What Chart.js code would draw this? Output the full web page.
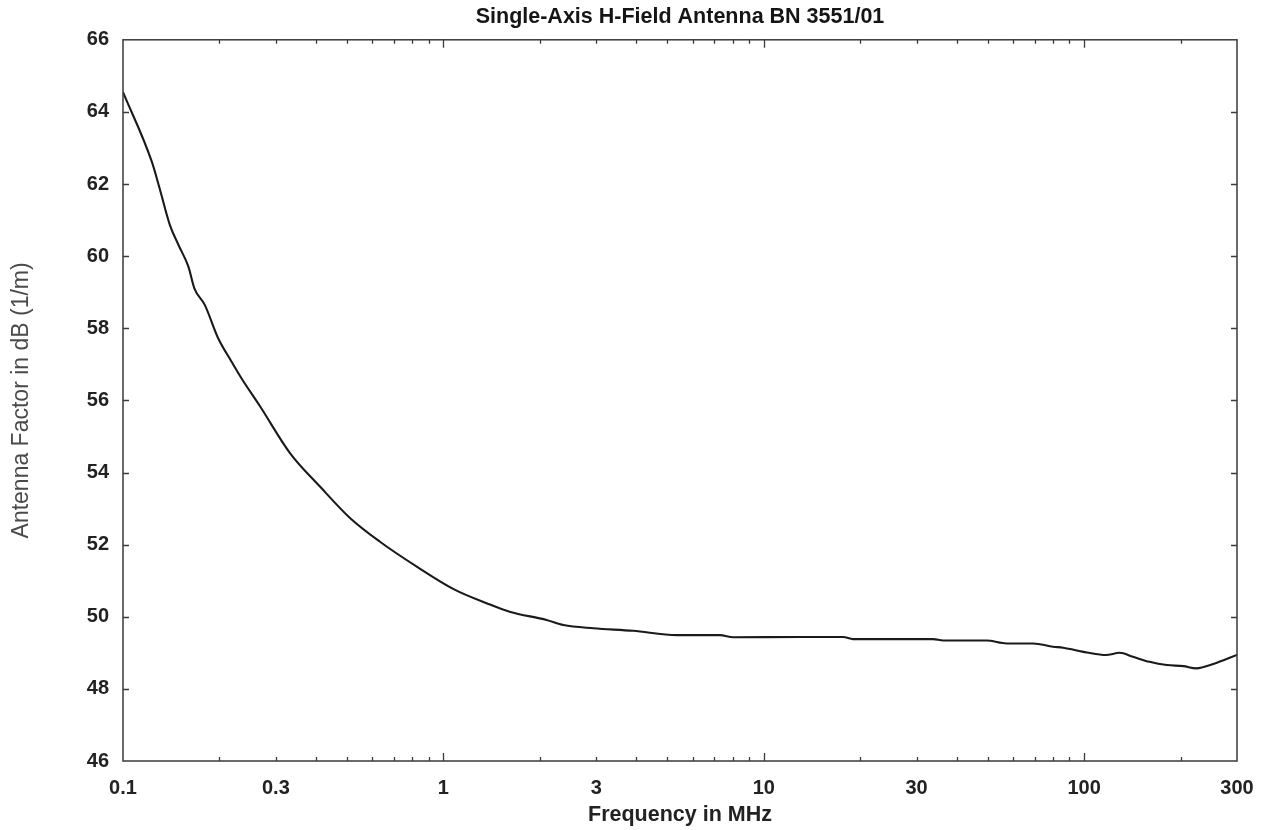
<!DOCTYPE html>
<html>
<head>
<meta charset="utf-8">
<title>Single-Axis H-Field Antenna BN 3551/01</title>
<script src="https://cdn.jsdelivr.net/npm/chart.js@4/dist/chart.umd.min.js"></script>
<style>
  html, body { margin: 0; padding: 0; background: #ffffff; }
  #wrap { width: 1270px; height: 830px; }
</style>
</head>
<body>
<div id="wrap"><canvas id="chart" width="1270" height="830"></canvas></div>
<script>
// Calibration curve of the antenna: frequency (MHz) and antenna factor dB(1/m)
const freqMHz = [
  0.100, 0.123, 0.130, 0.140, 0.149, 0.160, 0.167, 0.180, 0.198,
  0.218, 0.234, 0.268, 0.332, 0.412, 0.511, 0.634, 0.826, 1.08, 1.37,
  1.61, 2.10, 2.37, 2.94, 3.91, 5.35, 7.30, 8.03, 13.0, 17.7,
  19.0, 33.8, 36.3, 49.6, 57.3, 69.2, 80.0, 86.0, 102, 117,
  129, 142, 160, 181, 204, 224, 253, 300
];
const antennaFactorDb = [
  64.55, 62.62, 61.89, 60.87, 60.31, 59.71, 59.11, 58.65, 57.73,
  57.08, 56.62, 55.83, 54.54, 53.61, 52.74, 52.08, 51.39, 50.76, 50.37,
  50.14, 49.91, 49.77, 49.68, 49.61, 49.49, 49.49, 49.43, 49.44, 49.44,
  49.38, 49.38, 49.34, 49.34, 49.26, 49.26, 49.17, 49.14, 49.01, 48.94,
  49.00, 48.89, 48.75, 48.66, 48.63, 48.57, 48.69, 48.94
];

// Axis ranges and labelled ticks
const xTickValues = [0.1, 0.3, 1, 3, 10, 30, 100, 300];
const xMin = 0.1, xMax = 300;
const yMin = 46, yMax = 66, yStep = 2;

const chartTitle = 'Single-Axis H-Field Antenna BN 3551/01';
const xAxisTitle = 'Frequency in MHz';
const yAxisTitle = 'Antenna Factor in dB (1/m)';

const FONT = "'Liberation Sans', Arial, Helvetica, sans-serif";
const FRAME_COLOR = '#3a3a3a';

// Center the chart title over the plot area rather than the whole canvas
const titleOverPlot = {
  id: 'titleOverPlot',
  afterLayout(chart) {
    const t = chart.titleBlock;
    if (!t) return;
    t.left = chart.chartArea.left;
    t.right = chart.chartArea.right;
    t.width = t.right - t.left;
  }
};

// Box around the plot with inward-pointing tick marks on all four sides
const frameTicks = {
  id: 'frameTicks',
  afterDatasetsDraw(chart) {
    const { ctx, chartArea: a, scales: { x, y } } = chart;
    ctx.save();
    ctx.strokeStyle = FRAME_COLOR;
    ctx.lineWidth = 1.5;
    ctx.strokeRect(a.left, a.top, a.right - a.left, a.bottom - a.top);

    ctx.lineWidth = 1.3;
    ctx.beginPath();
    // logarithmic x ticks: long at decades, short in between
    for (let dec = 0.1; dec <= 100.0001; dec *= 10) {
      for (let m = 1; m <= 9; m++) {
        const v = m * dec;
        if (v <= xMin * 1.0001 || v >= xMax * 0.9999) continue;
        const px = Math.round(x.getPixelForValue(v)) + 0.5;
        const len = m === 1 ? 8 : 4;
        ctx.moveTo(px, a.bottom);
        ctx.lineTo(px, a.bottom - len);
        ctx.moveTo(px, a.top);
        ctx.lineTo(px, a.top + len);
      }
    }
    // y ticks on the left and right edges
    for (let v = yMin + yStep; v < yMax; v += yStep) {
      const py = Math.round(y.getPixelForValue(v)) + 0.5;
      ctx.moveTo(a.left, py);
      ctx.lineTo(a.left + 6, py);
      ctx.moveTo(a.right, py);
      ctx.lineTo(a.right - 6, py);
    }
    ctx.stroke();
    ctx.restore();
  }
};

const points = freqMHz.map((f, i) => ({ x: f, y: antennaFactorDb[i] }));

new Chart(document.getElementById('chart'), {
  type: 'line',
  data: {
    datasets: [{
      data: points,
      borderColor: '#1a1a1a',
      borderWidth: 2.1,
      pointRadius: 0,
      cubicInterpolationMode: 'monotone',
      fill: false
    }]
  },
  options: {
    responsive: false,
    animation: false,
    devicePixelRatio: 1,
    layout: { padding: { left: 0, right: 33, top: 0, bottom: 0 } },
    plugins: {
      legend: { display: false },
      tooltip: { enabled: false },
      title: {
        display: true,
        text: chartTitle,
        color: '#151515',
        font: { family: FONT, size: 21.5, weight: 'bold', lineHeight: 1.2 },
        padding: { top: 4, bottom: 10 }
      }
    },
    scales: {
      x: {
        type: 'logarithmic',
        min: xMin,
        max: xMax,
        afterBuildTicks(scale) {
          scale.ticks = xTickValues.map(v => ({ value: v }));
        },
        afterFit(scale) { scale.height = 69; },
        grid: { display: false, drawTicks: false },
        border: { display: false },
        ticks: {
          color: '#222222',
          padding: 15,
          maxRotation: 0,
          autoSkip: false,
          font: { family: FONT, size: 20, weight: 'bold' },
          callback: v => String(v)
        },
        title: {
          display: true,
          text: xAxisTitle,
          color: '#222222',
          font: { family: FONT, size: 21.5, weight: 'bold', lineHeight: 1.2 },
          padding: { top: 2, bottom: 2 }
        }
      },
      y: {
        type: 'linear',
        min: yMin,
        max: yMax,
        afterFit(scale) { scale.width = 123; },
        grid: { display: false, drawTicks: false },
        border: { display: false },
        ticks: {
          stepSize: yStep,
          color: '#222222',
          padding: 14,
          font: { family: FONT, size: 20, weight: 'bold' }
        },
        title: {
          display: true,
          text: yAxisTitle,
          color: '#4a4a4a',
          font: { family: FONT, size: 23, weight: 'normal', lineHeight: 1.2 },
          padding: { top: 8, bottom: 0 }
        }
      }
    }
  },
  plugins: [titleOverPlot, frameTicks]
});
</script>
</body>
</html>
